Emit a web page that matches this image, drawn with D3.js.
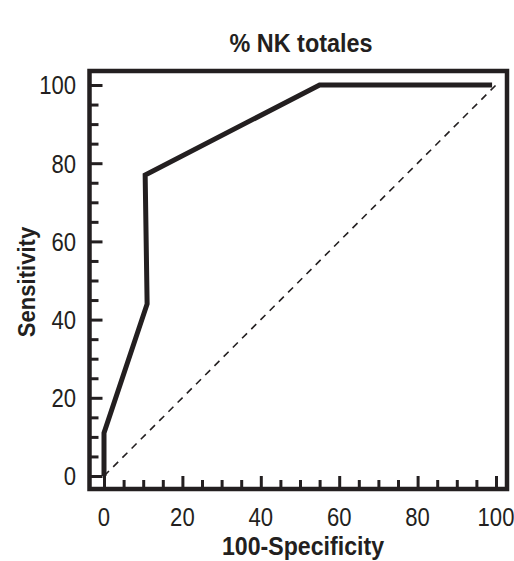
<!DOCTYPE html>
<html>
<head>
<meta charset="utf-8">
<script src="https://cdn.jsdelivr.net/npm/d3@7"></script>
<style>
  body { margin: 0; background: #fff; }
  text { font-family: "Liberation Sans", Arial, sans-serif; fill: #231f20; }
</style>
</head>
<body>
<div id="chart"></div>
<script>
// ROC curve values
const specX = [0, 0, 11, 10.5, 55, 99];
const sensY = [0, 11, 44, 77, 100, 100];
const refX = [0, 100];
const refY = [0, 100];
const tickValues = [0, 20, 40, 60, 80, 100];
const minorValues = d3.range(0, 101, 5).filter(v => v % 20 !== 0);

const width = 514;
const height = 561;
const ink = "#231f20";

const svg = d3.select("#chart").append("svg")
    .attr("width", width).attr("height", height);

const xScale = d3.scaleLinear().domain([0, 100]).range([104, 496]);
const yScale = d3.scaleLinear().domain([0, 100]).range([476, 85]);

// frame
const frame = { left: 89.5, right: 507, top: 71, bottom: 489 };
svg.append("rect")
    .attr("x", frame.left).attr("y", frame.top)
    .attr("width", frame.right - frame.left)
    .attr("height", frame.bottom - frame.top)
    .attr("fill", "none").attr("stroke", ink).attr("stroke-width", 4.5);

// y axis (inward ticks)
const yAxis = d3.axisRight(yScale).tickValues(tickValues).tickSize(13).tickFormat("");
const yg = svg.append("g").attr("transform", `translate(${frame.left},0)`).call(yAxis);
const yMinor = d3.axisRight(yScale).tickValues(minorValues).tickSize(9).tickFormat("");
const ym = svg.append("g").attr("transform", `translate(${frame.left},0)`).call(yMinor);

// x axis (inward ticks)
const xAxis = d3.axisTop(xScale).tickValues(tickValues).tickSize(13).tickFormat("");
const xg = svg.append("g").attr("transform", `translate(0,${frame.bottom})`).call(xAxis);
const xMinor = d3.axisTop(xScale).tickValues(minorValues).tickSize(9).tickFormat("");
const xm = svg.append("g").attr("transform", `translate(0,${frame.bottom})`).call(xMinor);

[yg, ym, xg, xm].forEach(g => {
    g.select(".domain").remove();
    g.selectAll(".tick line").attr("stroke", ink).attr("stroke-width", 3);
});

// condensed look: squeeze the text horizontally around its anchor
function squeeze(sel, x, y, sx, rot) {
    sel.attr("transform", d => {
        const tx = typeof x === "function" ? x(d) : x;
        const ty = typeof y === "function" ? y(d) : y;
        return `translate(${tx},${ty})` + (rot ? ` rotate(${rot})` : "") + ` scale(${sx},1)`;
    });
}

// tick labels
svg.selectAll(".ylab").data(tickValues).enter().append("text")
    .attr("class", "ylab")
    .attr("dy", "0.36em")
    .attr("text-anchor", "end")
    .attr("font-size", 26)
    .text(d => d)
    .call(squeeze, 76, d => yScale(d), 0.85);

svg.selectAll(".xlab").data(tickValues).enter().append("text")
    .attr("class", "xlab")
    .attr("text-anchor", "middle")
    .attr("font-size", 26)
    .text(d => d)
    .call(squeeze, d => xScale(d), 526, 0.85);

// reference diagonal
const line = d3.line().x(d => xScale(d[0])).y(d => yScale(d[1]));
svg.append("path")
    .datum(d3.zip(refX, refY))
    .attr("d", line)
    .attr("fill", "none").attr("stroke", ink)
    .attr("stroke-width", 1.6)
    .attr("stroke-dasharray", "7,6");

// ROC curve
svg.append("path")
    .datum(d3.zip(specX, sensY))
    .attr("d", line)
    .attr("fill", "none").attr("stroke", ink)
    .attr("stroke-width", 5)
    .attr("stroke-linejoin", "miter");

// titles
svg.append("text")
    .attr("text-anchor", "middle")
    .attr("font-size", 26).attr("font-weight", "bold")
    .text("% NK totales")
    .call(squeeze, 301, 52, 0.9);

svg.append("text")
    .attr("text-anchor", "middle")
    .attr("font-size", 26).attr("font-weight", "bold")
    .text("100-Specificity")
    .call(squeeze, 303, 555, 0.89);

svg.append("text")
    .attr("text-anchor", "middle")
    .attr("font-size", 24).attr("font-weight", "bold")
    .text("Sensitivity")
    .call(squeeze, 35, 282, 0.92, -90);
</script>
</body>
</html>
